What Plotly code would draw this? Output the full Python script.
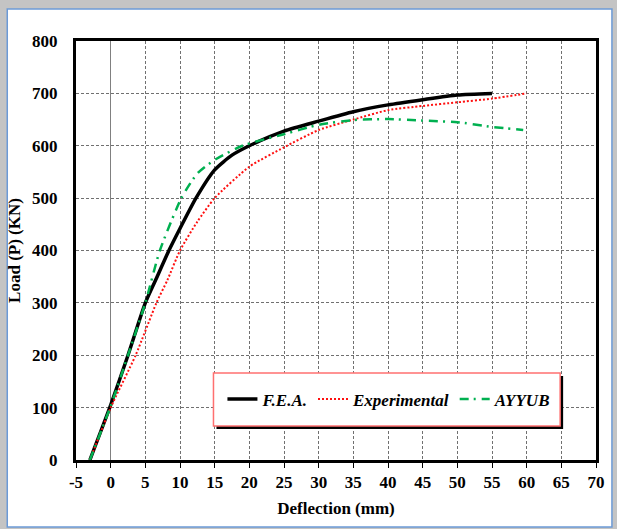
import plotly.graph_objects as go

# ---- data ----
fea_x = [-3, 0, 2.5, 5, 6.5, 8.4, 10, 12.3, 15, 17.5, 20, 25, 30, 35, 40, 45, 50, 55]
fea_y = [0, 105, 200, 300, 344, 400, 442, 500, 554, 582, 600, 628, 647, 665, 678, 688, 697, 700]

exp_x = [-3, 0, 3.6, 6.6, 8.2, 10, 12.5, 15, 20, 25, 30, 35, 40, 45, 50, 55, 60]
exp_y = [0, 100, 200, 300, 344, 400, 455, 500, 560, 597, 630, 650, 668, 676, 683, 690, 700]

ayy_x = [-3, 0, 2.5, 5, 7.1, 10.2, 12.5, 15, 19, 25, 30, 35, 40, 45, 50, 55, 59.5]
ayy_y = [0, 103, 200, 300, 400, 500, 547, 573, 600, 622, 640, 649, 651, 648, 645, 636, 630]

x_ticks = list(range(-5, 71, 5))
y_ticks = list(range(0, 801, 100))

W, H = 617, 529
ML, MR, MT, MB = 76, 19, 41, 69
PW, PH = W - ML - MR, H - MT - MB


def px(xp):
    return (xp - ML) / PW


def py(yp):
    return (H - MB - yp) / PH


FONT = "Liberation Serif, Times New Roman, serif"
FS = 17

fig = go.Figure()
fig.add_trace(go.Scatter(x=fea_x, y=fea_y, mode="lines", name="<b><i>F.E.A.</i></b>",
                         line=dict(color="black", width=3.5, shape="spline", smoothing=0.6)))
fig.add_trace(go.Scatter(x=exp_x, y=exp_y, mode="lines", name="<b><i>Experimental</i></b>",
                         line=dict(color="#ff1010", width=2, dash="2px,2px", shape="spline", smoothing=0.6)))
fig.add_trace(go.Scatter(x=ayy_x, y=ayy_y, mode="lines", name="<b><i>AYYUB</i></b>",
                         line=dict(color="#00b050", width=2.5, dash="9px,5px,2px,6px", shape="spline", smoothing=0.6)))

shapes = [
    # outer white frame with blue border
    dict(type="rect", xref="paper", yref="paper", x0=px(7), x1=px(614), y0=py(527), y1=py(9),
         fillcolor="white", line=dict(color="#6c9ad6", width=1.5), layer="below"),
    # legend shadow
    dict(type="rect", xref="paper", yref="paper", x0=px(217), x1=px(565), y0=py(429), y1=py(376),
         fillcolor="black", line=dict(width=0), layer="above"),
    # legend box
    dict(type="rect", xref="paper", yref="paper", x0=px(214), x1=px(562), y0=py(426), y1=py(373),
         fillcolor="white", line=dict(color="#ff7070", width=1.5), layer="above"),
]

fig.update_layout(
    width=W, height=H,
    margin=dict(l=ML, r=MR, t=MT, b=MB, pad=0),
    paper_bgcolor="#c4c4c4",
    plot_bgcolor="white",
    font=dict(family=FONT, size=FS, color="black"),
    shapes=shapes,
    showlegend=True,
    legend=dict(orientation="h", x=px(223), xanchor="left", y=py(399.5), yanchor="middle",
                bgcolor="rgba(0,0,0,0)", borderwidth=0,
                font=dict(family=FONT, size=FS, color="black")),
    xaxis=dict(
        range=[-5, 70], tickmode="array", tickvals=x_ticks, ticktext=[f"<b>{t}</b>" for t in x_ticks],
        showline=True, linecolor="black", linewidth=3, mirror=True,
        ticks="outside", ticklen=5, tickcolor="black", tickwidth=1,
        showgrid=True, gridcolor="#707070", gridwidth=1, griddash="3px,2px",
        zeroline=True, zerolinecolor="#808080", zerolinewidth=1,
        title=dict(text="<b>Deflection (mm)</b>", font=dict(family=FONT, size=FS), standoff=11),
        tickfont=dict(family=FONT, size=FS),
    ),
    yaxis=dict(
        range=[0, 800], tickmode="array", tickvals=y_ticks, ticktext=[f"<b>{t}</b>" for t in y_ticks],
        showline=True, linecolor="black", linewidth=3, mirror=True,
        ticks="", ticklabelstandoff=12,
        showgrid=True, gridcolor="#707070", gridwidth=1, griddash="3px,2px",
        zeroline=False,
        title=dict(text="<b>Load (P) (KN)</b>", font=dict(family=FONT, size=FS), standoff=8),
        tickfont=dict(family=FONT, size=FS),
    ),
)

fig.write_html("out.html")
